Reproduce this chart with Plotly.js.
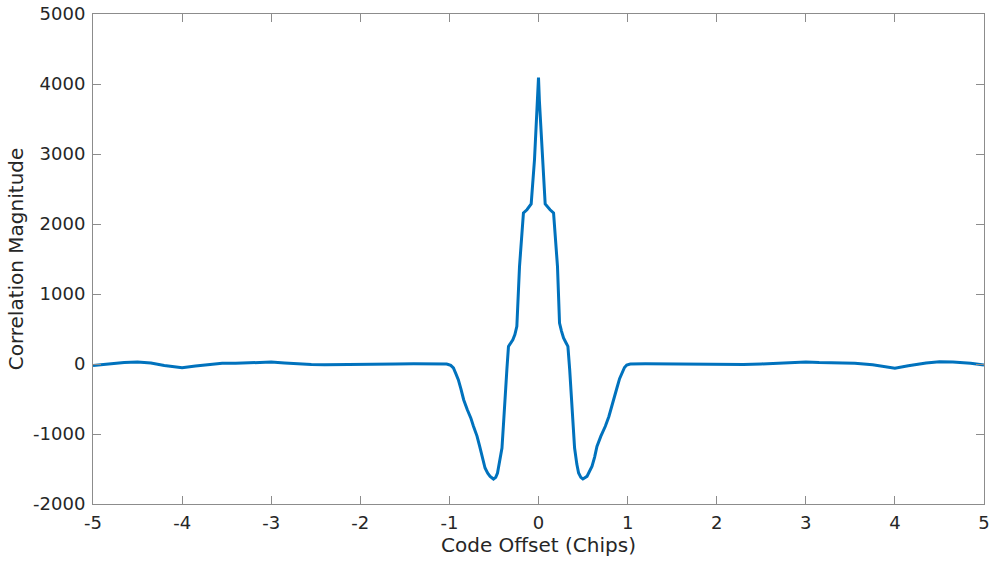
<!DOCTYPE html>
<html>
<head>
<meta charset="utf-8">
<script src="https://cdn.plot.ly/plotly-3.0.1.min.js"></script>
<style>html,body{margin:0;padding:0;background:#fff;}#chart{width:990px;height:561px;}</style>
</head>
<body>
<div id="chart"></div>
<script>
// Code offset (chips)
const codeOffset = [
  -5.0, -4.8, -4.65, -4.5, -4.35, -4.2, -4.0, -3.85, -3.7, -3.55, -3.4, -3.2, -3.0, -2.85, -2.7, -2.55, -2.4, -2.2, -2.0, -1.8, -1.6, -1.4, -1.2, -1.03,
  -0.985, -0.955, -0.93, -0.90, -0.87, -0.84, -0.80, -0.76, -0.73, -0.69, -0.66, -0.63, -0.60, -0.57, -0.543, -0.505, -0.48, -0.46, -0.435, -0.41, -0.39, -0.374, -0.355, -0.337, -0.31, -0.288, -0.265, -0.243, -0.213, -0.169, -0.13, -0.082, -0.045, -0.01,
  0.0,
  0.01, 0.045, 0.075, 0.13, 0.169, 0.213, 0.236, 0.258, 0.281, 0.31, 0.330, 0.35, 0.364, 0.385, 0.405, 0.43, 0.45, 0.475, 0.498, 0.52, 0.544, 0.57, 0.60, 0.63, 0.656, 0.70, 0.75, 0.79, 0.825, 0.855, 0.88, 0.91, 0.937, 0.965, 0.99, 1.03,
  1.2, 1.4, 1.6, 1.8, 2.0, 2.3, 2.5, 2.7, 2.85, 3.0, 3.15, 3.35, 3.55, 3.75, 3.9, 4.0, 4.15, 4.35, 4.5, 4.65, 4.85, 5.0
];
// Correlation magnitude
const correlation = [
  -20, 5, 20, 30, 15, -20, -55, -30, -5, 12, 10, 18, 28, 15, 0, -8, -10, -5, 0, 2, 0, 3, 2, 0,
  -20, -57, -130, -224, -360, -510, -650, -770, -890, -1030, -1177, -1330, -1486, -1560, -1605, -1643, -1620, -1557, -1400, -1200, -800, -414, -80, 251, 300, 347, 420, 537, 1394, 2157, 2204, 2286, 2918, 3760,
  4092,
  3760, 2918, 2286, 2204, 2157, 1394, 586, 470, 371, 300, 251, -80, -414, -800, -1200, -1430, -1557, -1620, -1643, -1625, -1605, -1540, -1463, -1330, -1177, -1030, -890, -750, -605, -470, -343, -210, -129, -50, -15, 0,
  2, 0, 3, 0, -3, -8, 0, 15, 20, 30, 20, 15, 12, -10, -40, -60, -25, 15, 32, 28, 10, -15
];
const xTicks = [-5, -4, -3, -2, -1, 0, 1, 2, 3, 4, 5];
const yTicks = [-2000, -1000, 0, 1000, 2000, 3000, 4000, 5000];

const axisCommon = {
  showgrid: false,
  zeroline: false,
  showline: true,
  linecolor: '#8c8c8c',
  linewidth: 1,
  mirror: 'ticks',
  ticks: 'inside',
  ticklen: 8,
  tickwidth: 1,
  tickcolor: '#8c8c8c',
  tickfont: {family: 'DejaVu Sans', size: 18, color: '#262626'}
};

Plotly.newPlot('chart', [{
  x: codeOffset,
  y: correlation,
  type: 'scatter',
  mode: 'lines',
  line: {color: '#0072BD', width: 3}
}], {
  width: 990,
  height: 561,
  margin: {l: 93, r: 6, t: 14, b: 57},
  paper_bgcolor: '#ffffff',
  plot_bgcolor: '#ffffff',
  showlegend: false,
  xaxis: Object.assign({}, axisCommon, {
    range: [-5, 5],
    tickvals: xTicks,
    ticktext: xTicks.map(String),
    ticklabelstandoff: 2,
    title: {text: 'Code Offset (Chips)', font: {family: 'DejaVu Sans', size: 20, color: '#262626'}, standoff: 2}
  }),
  yaxis: Object.assign({}, axisCommon, {
    range: [-2000, 5000],
    tickvals: yTicks,
    ticktext: yTicks.map(String),
    ticklabelstandoff: 3,
    title: {text: 'Correlation Magnitude', font: {family: 'DejaVu Sans', size: 20, color: '#262626'}, standoff: 4}
  })
}, {displayModeBar: false, staticPlot: true});
</script>
</body>
</html>
